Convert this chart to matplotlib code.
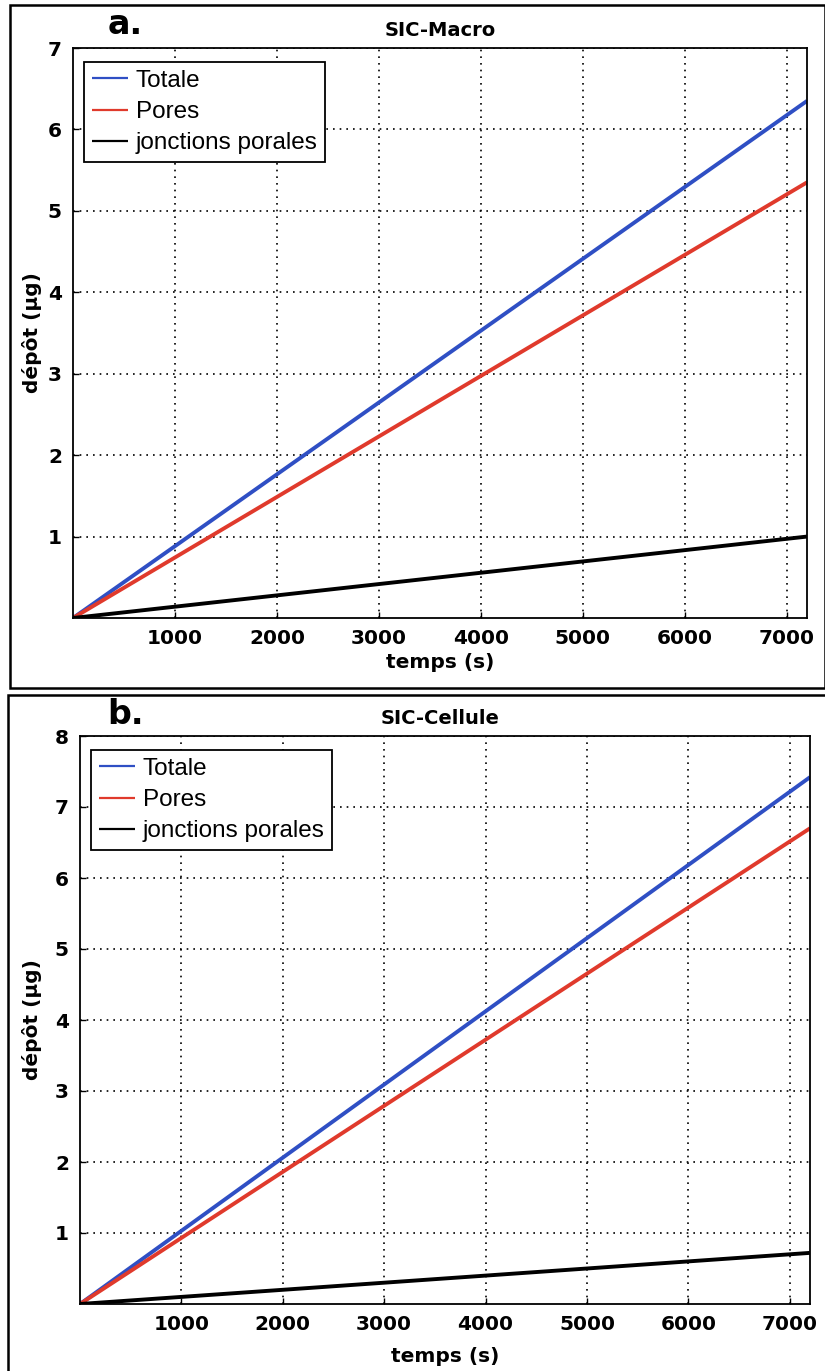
import matplotlib
matplotlib.use("Agg")
import matplotlib.pyplot as plt
from matplotlib.patches import Rectangle

# Data
temps = [0, 7200]
macro_totale = [0, 6.35]
macro_pores = [0, 5.35]
macro_jonctions = [0, 1.0]
cell_totale = [0, 7.42]
cell_pores = [0, 6.70]
cell_jonctions = [0, 0.72]

xticks = [1000, 2000, 3000, 4000, 5000, 6000, 7000]
yticks_a = [1, 2, 3, 4, 5, 6, 7]
yticks_b = [1, 2, 3, 4, 5, 6, 7, 8]
labels = ["Totale", "Pores", "jonctions porales"]
colors = ["#2f4fc4", "#e03a2c", "#000000"]

W, H = 825, 1371
fig = plt.figure(figsize=(W / 100, H / 100), dpi=100)

def fx(px):
    return px / W

def fy(py):
    return 1 - py / H

# outer panel boxes
fig.patches.append(Rectangle((fx(10), fy(688)), fx(815), 683 / H, transform=fig.transFigure,
                             fill=False, edgecolor="black", linewidth=1.8))
fig.patches.append(Rectangle((fx(8), fy(1372)), fx(818), 677 / H, transform=fig.transFigure,
                             fill=False, edgecolor="black", linewidth=1.8))

def make_panel(left, right, top, bottom, series, ylim, yticks, letter, title,
               letter_y, title_y, xlab_y):
    w = right - left
    h = bottom - top
    ax = fig.add_axes([fx(left), fy(bottom), w / W, h / H])
    for vals, lab, c in zip(series, labels, colors):
        ax.plot(temps, vals, color=c, linewidth=2.8, label=lab,
                solid_capstyle="butt")
    ax.set_xlim(0, 7200)
    ax.set_ylim(*ylim)
    ax.set_xticks(xticks)
    ax.set_yticks(yticks)
    ax.tick_params(direction="in", length=4, width=1, labelsize=14.5, pad=8)
    for t in ax.get_xticklabels() + ax.get_yticklabels():
        t.set_fontweight("bold")
    ax.grid(True, color="black", linestyle=(0, (1, 3)), linewidth=1.2)
    for s in ax.spines.values():
        s.set_linewidth(1.3)
    ax.set_xlabel("temps (s)", fontsize=14.5, fontweight="bold")
    ax.xaxis.set_label_coords(0.5, -(xlab_y - bottom) / h)
    ax.xaxis.label.set_va("center")
    ax.set_ylabel("dépôt (µg)", fontsize=14.5, fontweight="bold")
    ax.yaxis.set_label_coords(-(left - 32) / w, 0.5)
    ax.yaxis.label.set_va("center")
    leg = ax.legend(loc="upper left", bbox_to_anchor=(11 / w, 1 - 14 / h),
                    fancybox=False, framealpha=1, edgecolor="black",
                    prop={"family": "Liberation Sans", "size": 17.5},
                    borderpad=0.32, labelspacing=0.38, handlelength=1.5,
                    handletextpad=0.3, borderaxespad=0.0)
    leg.get_frame().set_linewidth(1.3)
    for l in leg.get_lines():
        l.set_linewidth(1.6)
    fig.text(fx(125), fy(letter_y), letter, fontsize=24, fontweight="bold",
             ha="center", va="center")
    fig.text(fx(440), fy(title_y), title, fontsize=14, fontweight="bold",
             ha="center", va="center")
    return ax

make_panel(73, 807, 48, 618, [macro_totale, macro_pores, macro_jonctions], (0, 7), yticks_a,
           "a.", "SIC-Macro", 25, 31, 662)
make_panel(80, 810, 736, 1304, [cell_totale, cell_pores, cell_jonctions], (0, 8), yticks_b,
           "b.", "SIC-Cellule", 714, 718, 1356)

fig.savefig("out.png", dpi=100)
